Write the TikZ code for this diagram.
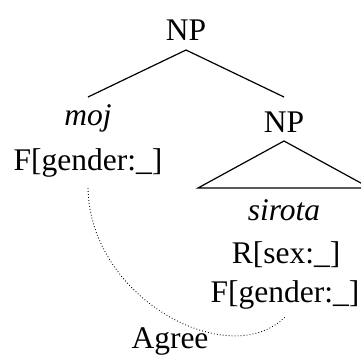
\documentclass[tikz,border=0pt]{standalone}
\usepackage{fontspec}
\setmainfont{Liberation Serif}
\usetikzlibrary{calc}
\begin{document}
\begin{tikzpicture}[x=1pt,y=-1pt,
  lbl/.style={font=\fontsize{31.5}{36}\selectfont, inner sep=0pt, outer sep=0pt, anchor=base},
  branch/.style={line width=1.2pt},
  agreeline/.style={line width=0.9pt, dash pattern=on 0.8pt off 2.2pt}]
\useasboundingbox (0,0) rectangle (361,356);
\node[lbl] (top) at (186,40) {NP};
\node[lbl] (moj) at (88,125) {\textit{moj}};
\node[lbl] (mojF) at (88,170) {F[gender:\_]};
\node[lbl] (np2) at (284,132) {NP};
\node[lbl] (sirota) at (284,220) {\textit{sirota}};
\node[lbl] (sirR) at (286,263) {R[sex:\_]};
\node[lbl] (sirF) at (285,302) {F[gender:\_]};
\node[lbl] (agree) at (170,348) {Agree};
\draw[branch] ([yshift=-10pt]top.base) -- ([yshift=28pt]moj.base);
\draw[branch] ([yshift=-10pt]top.base) -- ([yshift=35pt]np2.base);
\draw[branch] ([yshift=-9pt]np2.base) -- ($(sirota.base)+(-86,-32)$) -- ($(sirota.base)+(86,-32)$) -- cycle;
\draw[agreeline] ([yshift=-18pt]mojF.base) .. controls (90,300) and (230,372) .. ([yshift=-15pt]sirF.base);
\end{tikzpicture}
\end{document}
